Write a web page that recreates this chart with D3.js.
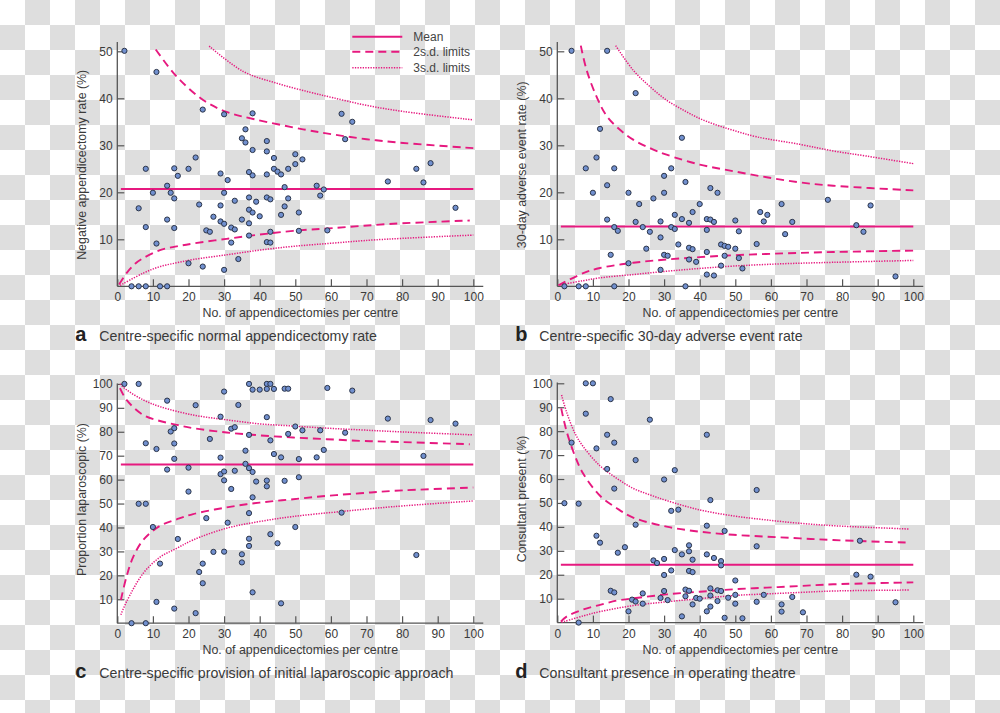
<!DOCTYPE html>
<html><head><meta charset="utf-8">
<script src="https://cdn.jsdelivr.net/npm/d3@7"></script>
<style>body{margin:0;background:#fff}svg{display:block}</style>
</head><body>
<svg id="chart" width="1000" height="713"></svg>
<script>
// ---------- data ----------
const xTickValues = [0,10,20,30,40,50,60,70,80,90,100];
const yTicksSmall = [10,20,30,40,50];
const yTicksLarge = [10,20,30,40,50,60,70,80,90,100];
const xTitle = "No. of appendicectomies per centre";
const legendLabels = ["Mean","2s.d. limits","3s.d. limits"];

// Panel a: negative appendicectomy rate
const aPoints = [[2,50.1],[11,45.6],[8,25.0],[6,16.6],[8,12.6],[10,19.9],[11,9.1],[4,0],[6,0],[8,0],[12,0],[14,0],[14,21.4],[15,19.9],[14,14.2],[16,25.1],[17,23.5],[16,18.7],[16,12.4],[20,25.0],[22,27.4],[20,4.9],[23,17.4],[24,37.6],[24,4.2],[25,11.9],[26,11.6],[27,14.8],[29,24.0],[29,17.2],[29,13.8],[30,36.6],[30,19.9],[30,13.3],[30,3.5],[31,22.6],[32,12.5],[32,9.3],[33,18.2],[33,12.1],[34,5.8],[35,31.5],[35,14.2],[36,33.4],[36,30.6],[37,24.3],[38,23.6],[37,18.9],[37,16.3],[38,15.7],[37,13.4],[37,10.8],[38,36.8],[38,29.0],[39,18.0],[40,14.9],[42,30.9],[42,28.7],[42,23.8],[42,18.9],[43,18.5],[42,9.4],[43,9.3],[43,11.6],[44,27.3],[44,25.0],[45,24.4],[46,23.8],[47,21.1],[48,25.0],[48,18.7],[47,17.0],[46,15.2],[50,28.1],[50,26.0],[52,27.0],[51,15.7],[51,11.8],[56,21.4],[57,19.3],[58,20.6],[59,11.9],[63,36.7],[66,35.0],[64,31.3],[76,22.3],[84,25.0],[86,22.1],[88,26.2],[95,16.7]];
const aMean = 20.7;
const aUp2 = [[10.8,50.4],[16.7,44.6],[24.2,39.6],[30.7,37.1],[38.2,35.6],[52.2,33.4],[60.7,32.3],[70,31.3],[80.3,30.5],[100,29.4]];
const aUp3 = [[25.8,51.1],[35.4,45.7],[44.8,43.2],[54.1,41.3],[60.7,40.1],[70,38.5],[80.3,37.2],[100,35.4]];
const aLo2 = [[0.5,0.4],[2.6,2.8],[5,4.8],[7.3,6.0],[12,7.7],[16.7,8.5],[21.3,9.1],[30.7,10.1],[40,11],[49.4,11.8],[60.7,12.4],[77.5,13.3],[99,14.0]];
const aLo3 = [[0.8,0.2],[7.3,2.8],[12,4.2],[16.7,5.0],[21.3,5.7],[30.7,6.7],[40,7.7],[49.4,8.5],[60.7,9.2],[72.8,9.9],[100,10.9]];

// Panel b: 30-day adverse event rate
const bPoints = [[4,50.1],[14,50.1],[22,41.1],[12,33.5],[11,27.4],[8,25.1],[16,25.1],[14,21.5],[10,19.9],[14,14.2],[16,12.6],[17,11.8],[15,6.7],[2,0],[6,0],[8,0],[16,0],[36,0],[20,19.9],[23,17.5],[22,13.7],[24,12.6],[26,11.6],[25,8.0],[20,4.9],[27,18.7],[29,13.8],[29,10.4],[29,3.5],[30,23.5],[30,19.9],[30,6.7],[31,6.5],[32,25.1],[33,15.2],[32,12.6],[33,12.2],[34,8.9],[35,31.6],[35,14.3],[36,22.2],[37,13.5],[38,15.8],[37,8.2],[38,7.9],[37,5.7],[39,5.2],[40,17.5],[42,14.3],[43,14.2],[44,13.7],[42,12.0],[43,20.9],[45,19.9],[42,7.3],[42,2.5],[44,2.3],[46,8.9],[47,8.6],[48,8.4],[47,6.5],[46,4.4],[50,14.0],[50,8.0],[51,11.7],[51,6.0],[52,3.8],[56,9.0],[57,15.8],[58,13.8],[59,15.2],[63,17.5],[64,11.1],[66,13.7],[76,18.4],[84,13.0],[86,11.6],[88,17.2],[95,2.1]];
const bMean = 12.7;
const bUp2 = [[6.6,51.2],[8.2,46.1],[11,40.4],[13.9,36.2],[17.6,33.3],[21.3,31.2],[26,29.4],[30.7,28.0],[40,25.9],[49.4,24.5],[58.8,23.2],[68.2,22.1],[77.5,21.4],[100,20.4]];
const bUp3 = [[16.4,51.2],[21.3,46.0],[26,42.5],[30.7,39.6],[35.4,37.5],[40,35.7],[44.8,34.3],[49.4,33.2],[56,31.8],[68.2,30.2],[77.5,28.8],[86.9,27.7],[100,26.1]];
const bLo2 = [[0.3,0.2],[7.3,2.8],[12,3.9],[21.3,5.0],[30.7,5.7],[40,6.2],[49.4,6.6],[63.5,7.0],[77.5,7.3],[100,7.6]];
const bLo3 = [[0.8,0.3],[7.3,1.2],[12,1.8],[21.3,2.5],[30.7,3.2],[40,3.8],[49.4,4.3],[63.5,4.8],[77.5,5.1],[100,5.5]];

// Panel c: proportion laparoscopic
const cPoints = [[2,100],[6,100],[14,93],[22,91.1],[8,75.2],[11,72.8],[14,64.2],[15,80.1],[16,81.5],[16,75.1],[16,68.7],[6,49.9],[8,49.9],[10,40.2],[12,24.9],[11,8.9],[4,0],[8,0],[16,6.1],[17,35.2],[20,65],[20,55],[22,4.2],[23,21.4],[24,24.9],[24,16.7],[25,43.9],[26,77],[27,29.8],[29,86.3],[29,69.2],[29,62.3],[30,96.8],[30,63.4],[30,59.7],[30,29.9],[31,42],[32,81.3],[33,81.9],[33,63.7],[32,56.1],[34,91.2],[35,28.8],[35,25.4],[36,72.1],[36,66.6],[37,100],[37,78.7],[37,64.8],[37,46],[37,35.3],[37,32.3],[38,97.6],[38,63.2],[38,52.6],[38,12.9],[39,59.2],[40,97.6],[42,100],[43,100],[42,97.9],[44,97.9],[42,86.1],[42,59.6],[42,57.2],[43,76.4],[43,37.2],[44,70.7],[45,33.4],[46,69.3],[46,8.3],[47,98],[48,98],[48,79.1],[47,59.5],[50,82.2],[50,40.2],[51,68.6],[51,61],[52,80.6],[56,69.3],[57,80.6],[58,72.4],[59,98.3],[63,46.2],[64,79.6],[66,97.2],[76,85.5],[84,28.5],[86,69.9],[88,84.9],[95,83.4]];
const cMean = 66.3;
const cUp2 = [[0.75,98.2],[2.6,93.3],[7.3,87.0],[12,84.5],[16.7,82.9],[21.3,81.5],[30.7,79.7],[40,78.5],[49.4,77.6],[58.8,76.9],[68.2,76.2],[77.5,75.8],[99,74.8]];
const cUp3 = [[0.75,100],[2.6,97.5],[7.3,93.3],[12,90.5],[21.3,87],[30.7,85],[40,83.3],[49.4,82.4],[58.8,81.5],[68.2,80.8],[77.5,80.1],[100,78.7]];
const cLo2 = [[1,9.7],[2.6,19.5],[4.5,27.8],[7.3,34.8],[12,40.7],[16.7,43.4],[21.3,45.6],[30.7,48.4],[40,50.4],[49.4,51.8],[58.8,53.2],[68.2,54.3],[77.5,55.3],[100,56.7]];
const cLo3 = [[1,3.5],[2.6,9.0],[7.3,20.9],[12,27.6],[16.7,31.3],[21.3,34.8],[30.7,39.7],[40,42.5],[49.4,44.6],[62.5,46.6],[77.5,48.7],[100,51.1]];

// Panel d: consultant present
const dPoints = [[8,100],[10,100],[15,93.4],[8,87.3],[26,84.8],[14,78.5],[42,78.5],[4,75.2],[16,75.2],[11,72.8],[22,67.9],[14,64.2],[33,63.7],[30,59.8],[16,56],[56,55.4],[43,51.2],[2,49.9],[6,49.7],[32,46.7],[34,47.2],[22,40.9],[42,40.5],[47,38.3],[85,34.2],[11,36.3],[12,33.4],[19,31.5],[17,29.2],[56,31.9],[37,32.3],[33,30.3],[35,28.5],[37,29.8],[42,28.5],[44,27],[38,26.3],[46,25.7],[46,23.9],[27,26],[28,24.9],[30,26.6],[30,19.9],[32,21.8],[37,21.6],[38,21.1],[84,20],[88,19.2],[50,17.6],[15,13.3],[16,12.6],[24,12.2],[30,13.2],[29,10.3],[31,9.4],[21,9.6],[22,8.8],[24,7.9],[20,4.7],[36,13.8],[37,13.3],[36,11],[38,7.6],[39,10.3],[40,10],[43,14.3],[45,13.5],[46,13.2],[43,11.3],[45,9],[43,6.7],[42,4.7],[48,10.4],[50,11.6],[50,7.9],[47,2.0],[52,1.8],[35,2.6],[6,0],[56,8.7],[58,11.6],[63,7.6],[63,4.6],[66,10.7],[69,4.3],[95,8.5]];
const dMean = 24.2;
const dUp2 = [[1.1,89.5],[2.6,80],[5,69.5],[7.3,62.2],[12,53],[16.7,47.8],[21.3,43.9],[30.7,40.1],[40,38],[49.4,36.7],[58.8,35.9],[68.2,35.2],[77.5,34.5],[99,33.4]];
const dUp3 = [[1.2,95.1],[2.6,88],[5,79],[7.3,73.5],[12,65.5],[16.7,60.3],[21.3,56.1],[26,53.4],[30.7,51],[40,47.1],[49.4,44.6],[58.8,42.9],[68.2,41.5],[77.5,40.5],[99,39.1]];
const dLo2 = [[1,0.4],[2.6,2.5],[7.3,5.5],[12,7.4],[16.7,9.2],[21.3,10.1],[30.7,11.8],[40,12.9],[49.4,13.9],[58.8,14.6],[68.2,15.3],[77.5,16.0],[100,16.8]];
const dLo3 = [[1.2,0.1],[7.3,2.8],[12,4.6],[21.3,7.1],[30.7,8.7],[40,10],[49.4,11.3],[58.8,12],[68.2,12.6],[77.5,13.2],[99,13.6]];

// ---------- layout ----------
const PINK = "#e6197f";
const TEXT = "#3a3a3a";
const AXIS = "#555";
const panels = [
  {letter:"a", caption:"Centre-specific normal appendicectomy rate", yTitle:"Negative appendicectomy rate (%)",
   xr:[117.3,473.3], yr:[286.3,51.3], ymax:50, ytop:52, yticks:yTicksSmall,
   points:aPoints, mean:aMean, up2:aUp2, up3:aUp3, lo2:aLo2, lo3:aLo3, legend:true},
  {letter:"b", caption:"Centre-specific 30-day adverse event rate", yTitle:"30-day adverse event rate (%)",
   xr:[557.3,913.3], yr:[286.3,51.3], ymax:50, ytop:52, yticks:yTicksSmall,
   points:bPoints, mean:bMean, up2:bUp2, up3:bUp3, lo2:bLo2, lo3:bLo3},
  {letter:"c", caption:"Centre-specific provision of initial laparoscopic approach", yTitle:"Proportion laparoscopic (%)",
   xr:[117.3,473.3], yr:[623.2,383.9], ymax:100, ytop:100.2, yticks:yTicksLarge,
   points:cPoints, mean:cMean, up2:cUp2, up3:cUp3, lo2:cLo2, lo3:cLo3},
  {letter:"d", caption:"Consultant presence in operating theatre", yTitle:"Consultant present (%)",
   xr:[557.3,913.3], yr:[622.6,383.3], ymax:100, ytop:100.3, yticks:yTicksLarge,
   points:dPoints, mean:dMean, up2:dUp2, up3:dUp3, lo2:dLo2, lo3:dLo3}
];

const svg = d3.select("#chart");
const FONT = "'Liberation Sans', Arial, Helvetica, sans-serif";

// checkerboard background
const defs = svg.append("defs");
const pat = defs.append("pattern").attr("id","checker").attr("width",50).attr("height",50)
  .attr("patternUnits","userSpaceOnUse");
pat.append("rect").attr("width",50).attr("height",50).attr("fill","#ffffff");
pat.append("rect").attr("x",25).attr("y",0).attr("width",25).attr("height",25).attr("fill","#dedede");
pat.append("rect").attr("x",0).attr("y",25).attr("width",25).attr("height",25).attr("fill","#dedede");
svg.append("rect").attr("width",1000).attr("height",713).attr("fill","url(#checker)");

const DASH = "8,5";
const DOT = "1.3,1.3";

panels.forEach(p => {
  const x = d3.scaleLinear().domain([0,100]).range(p.xr);
  const y = d3.scaleLinear().domain([0,p.ymax]).range(p.yr);
  const g = svg.append("g").attr("font-family", FONT);

  // axes lines
  g.append("line").attr("x1",x(0)).attr("x2",x(102.8)).attr("y1",y(0)).attr("y2",y(0))
    .attr("stroke",AXIS).attr("stroke-width",1.3);
  g.append("line").attr("x1",x(0)).attr("x2",x(0)).attr("y1",y(0)).attr("y2",y(p.ytop))
    .attr("stroke",AXIS).attr("stroke-width",1.3);

  const xa = g.append("g").attr("transform",`translate(0,${y(0)})`)
    .call(d3.axisBottom(x).tickValues(xTickValues).tickSize(-7).tickPadding(6.5));
  const ya = g.append("g").attr("transform",`translate(${x(0)},0)`)
    .call(d3.axisLeft(y).tickValues(p.yticks).tickSize(-7).tickPadding(4.6));
  [xa,ya].forEach(a => {
    a.select(".domain").remove();
    a.selectAll(".tick line").attr("stroke",AXIS).attr("stroke-width",1.2);
    a.selectAll(".tick text").attr("fill",TEXT).attr("font-size",12).attr("font-family",FONT);
  });

  // titles
  g.append("text").attr("x",(x(0)+x(102.8))/2).attr("y",y(0)+31)
    .attr("text-anchor","middle").attr("font-size",12.4).attr("fill",TEXT).text(xTitle);
  const ty = (p.yr[0]+p.yr[1])/2 - 4;
  g.append("text").attr("transform",`translate(${p.xr[0]-31.5},${ty}) rotate(-90)`)
    .attr("text-anchor","middle").attr("font-size",12.4).attr("fill",TEXT).text(p.yTitle);

  // caption
  g.append("text").attr("x",p.xr[0]-42).attr("y",y(0)+55).attr("font-size",20).attr("font-weight","bold")
    .attr("fill","#222").text(p.letter);
  g.append("text").attr("x",p.xr[0]-18).attr("y",y(0)+55).attr("font-size",14.2).attr("fill",TEXT).text(p.caption);

  // limits
  const line = d3.line().x(d=>x(d[0])).y(d=>y(d[1])).curve(d3.curveCatmullRom.alpha(0.5));
  const draw = (data, dash, w) => g.append("path").datum(data).attr("d",line)
    .attr("fill","none").attr("stroke",PINK).attr("stroke-width",w)
    .attr("stroke-dasharray",dash);
  draw(p.up3, DOT, 1.5); draw(p.lo3, DOT, 1.5);
  draw(p.up2, DASH, 1.9); draw(p.lo2, DASH, 1.9);
  g.append("line").attr("x1",x(1)).attr("x2",x(100)).attr("y1",y(p.mean)).attr("y2",y(p.mean))
    .attr("stroke",PINK).attr("stroke-width",2);

  // points
  g.append("g").selectAll("circle").data(p.points).join("circle")
    .attr("cx",d=>x(d[0])).attr("cy",d=>y(d[1])).attr("r",2.6)
    .attr("fill","#7190cf").attr("stroke","#2b3448").attr("stroke-width",1);

  if (p.legend) {
    const lg = g.append("g");
    const ys = [36.7,51.7,67.7];
    const dashes = [null, DASH, DOT];
    const widths = [2,1.9,1.5];
    legendLabels.forEach((lab,i) => {
      lg.append("line").attr("x1",352.3).attr("x2",402.3).attr("y1",ys[i]).attr("y2",ys[i])
        .attr("stroke",PINK).attr("stroke-width",widths[i]).attr("stroke-dasharray",dashes[i]);
      lg.append("text").attr("x",413.3).attr("y",ys[i]+4.3).attr("font-size",12).attr("fill","#444").text(lab);
    });
  }
});
</script>
</body></html>
